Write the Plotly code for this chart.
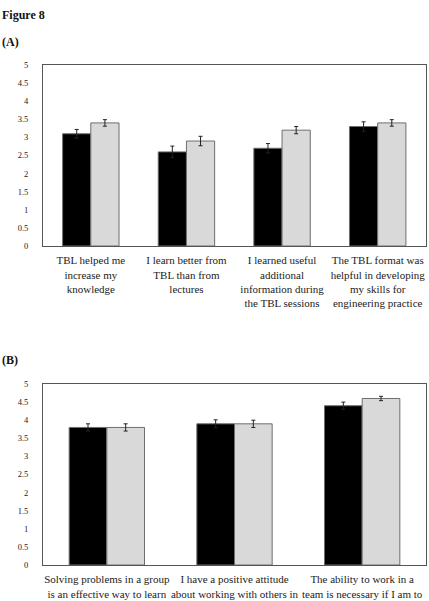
import plotly.graph_objects as go

FONT = "'Liberation Serif', 'Times New Roman', Tinos, 'DejaVu Serif', serif"

# ---- Data: panel A ----
cats_a = [
    "TBL helped me<br>increase my<br>knowledge",
    "I learn better from<br>TBL than from<br>lectures",
    "I learned useful<br>additional<br>information during<br>the TBL sessions",
    "The TBL format was<br>helpful in developing<br>my skills for<br>engineering practice",
]
a_black = [3.1, 2.6, 2.7, 3.3]
a_black_err = [0.12, 0.16, 0.13, 0.13]
a_grey = [3.4, 2.9, 3.2, 3.4]
a_grey_err = [0.09, 0.13, 0.10, 0.09]

# ---- Data: panel B ----
cats_b = [
    "Solving problems in a group<br>is an effective way to learn",
    "I have a positive attitude<br>about working with others in<br>a team",
    "The ability to work in a<br>team is necessary if I am to<br>be a successful engineer",
]
b_black = [3.8, 3.9, 4.4]
b_black_err = [0.10, 0.11, 0.10]
b_grey = [3.8, 3.9, 4.6]
b_grey_err = [0.10, 0.10, 0.06]

y_ticks = [0, 0.5, 1, 1.5, 2, 2.5, 3, 3.5, 4, 4.5, 5]
y_tick_text = ["0", "0.5", "1", "1.5", "2", "2.5", "3", "3.5", "4", "4.5", "5"]

W, H = 429, 601
fig = go.Figure()

def bars(x, y, err, color, xa, ya):
    return go.Bar(
        x=x, y=y, xaxis=xa, yaxis=ya,
        marker=dict(color=color, line=dict(color="#6e6e6e", width=1)),
        error_y=dict(type="data", array=err, visible=True, color="#222222",
                     thickness=1, width=2),
        showlegend=False,
    )

fig.add_trace(bars(list(range(len(cats_a))), a_black, a_black_err, "#000000", "x", "y"))
fig.add_trace(bars(list(range(len(cats_a))), a_grey, a_grey_err, "#d9d9d9", "x", "y"))
fig.add_trace(bars(list(range(len(cats_b))), b_black, b_black_err, "#000000", "x2", "y2"))
fig.add_trace(bars(list(range(len(cats_b))), b_grey, b_grey_err, "#d9d9d9", "x2", "y2"))

frame = dict(showline=True, linecolor="#555555", linewidth=1, mirror=True,
             showgrid=False, zeroline=False, automargin=False)

def xax(cats, anchor, dom):
    return dict(domain=dom, anchor=anchor, tickmode="array",
                tickvals=list(range(len(cats))), ticktext=cats,
                range=[-0.5, len(cats) - 0.5], ticks="", tickangle=0,
                ticklabelstandoff=4,
                tickfont=dict(family=FONT, size=11, color="#222222"), **frame)

def yax(dom, anchor):
    return dict(domain=dom, anchor=anchor, range=[0, 5], tickmode="array",
                tickvals=y_ticks, ticktext=y_tick_text, ticks="",
                ticklabelstandoff=12,
                tickfont=dict(family=FONT, size=8.5, color="#222222"), **frame)

def label(text, ypix):
    return dict(text=text, xref="paper", yref="paper", x=0, y=1 - ypix / H,
                xanchor="left", yanchor="middle", showarrow=False,
                font=dict(family=FONT, size=12, color="#111111"))

fig.update_layout(
    width=W, height=H,
    margin=dict(l=0, r=0, t=0, b=0, autoexpand=False),
    paper_bgcolor="white", plot_bgcolor="white",
    barmode="group", bargap=0.41, bargroupgap=0,
    xaxis=xax(cats_a, "y", [43 / W, 425.5 / W]),
    yaxis=yax([1 - 246 / H, 1 - 65 / H], "x"),
    xaxis2=xax(cats_b, "y2", [43 / W, 426 / W]),
    yaxis2=yax([1 - 565 / H, 1 - 384 / H], "x2"),
    font=dict(family=FONT, color="#222222"),
    annotations=[
        label("<b>Figure 8</b>", 15),
        label("<b>(A)</b>", 42),
        label("<b>(B)</b>", 360),
    ],
)

fig.write_html("out.html")
